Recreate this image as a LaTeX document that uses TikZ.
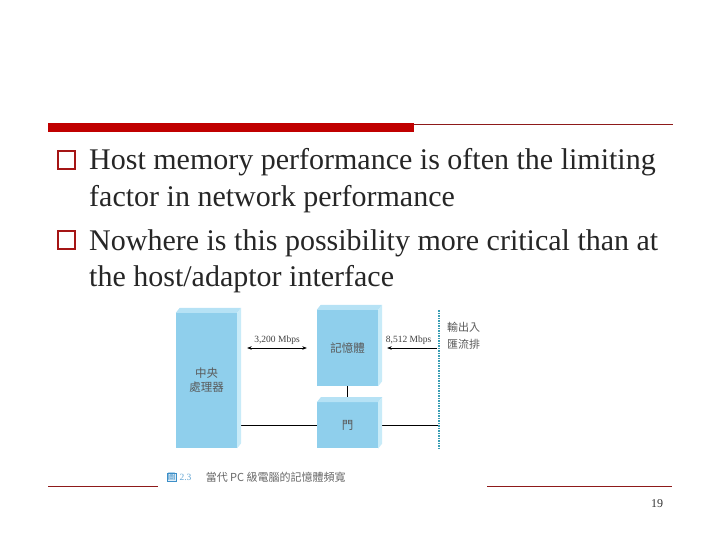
\documentclass[tikz,border=0pt]{standalone}
\usepackage{fontspec}
\setmainfont{Liberation Serif}
\newfontfamily\cjk{Noto Sans CJK TC}
\usetikzlibrary{calc}
\usetikzlibrary{positioning}
\usetikzlibrary{arrows.meta}

\definecolor{slidered}{HTML}{C00000}
\definecolor{linered}{HTML}{8E1A1A}
\definecolor{bulletred}{HTML}{A51515}
\definecolor{boxfront}{HTML}{8FCFEC}
\definecolor{boxtop}{HTML}{B6E2F5}
\definecolor{boxside}{HTML}{C8EBF8}
\definecolor{busblue}{HTML}{3A9DB3}
\definecolor{figblue}{HTML}{3C8FC8}
\definecolor{captiongray}{HTML}{666666}

\tikzset{
  box/.style={rectangle, fill=boxfront, minimum width=61pt, inner sep=0, align=center,
    font=\cjk\fontsize{11.5}{14}\selectfont, text=black!65},
  bulletbox/.style={rectangle, draw=bulletred, line width=2.4pt, minimum size=17.5pt, inner sep=0},
  bodytext/.style={anchor=base west, inner sep=0, font=\fontsize{30}{32}\selectfont, text=black!85},
  rate/.style={font=\fontsize{9.5}{10}\selectfont, inner sep=1pt, text=black!75},
  rule/.style={linered, line width=0.8pt}
}

\begin{document}
\begin{tikzpicture}[x=1pt, y=-1pt, >={Stealth[length=4.5pt, width=3.5pt]}]
\useasboundingbox (0,0) rectangle (720,540);

%% Title rule
\fill[slidered] (48,123) rectangle (414,132);
\draw[rule] (414,124) -- (673,124);

%% Bullets
\node[bulletbox] (bullet1) at (66.5,160) {};
\node[bodytext] (line1) at (89,170) {Host memory performance is often the limiting};
\node[bodytext] (line2) at (89,207) {factor in network performance};
\node[bulletbox] (bullet2) at (66.5,240) {};
\node[bodytext] (line3) at (89,250) {Nowhere is this possibility more critical than at};
\node[bodytext] (line4) at (89,286) {the host/adaptor interface};

%% Figure
\node[box, minimum height=135pt] (cpu) at (206.5,380.5) {中央\\處理器};
\node[box, minimum height=76pt] (memory) at (347.5,348) {記憶體};
\node[box, minimum height=46pt, below=16pt of memory] (gate) {門};

\coordinate (bus top) at (439,310);
\coordinate (bus bottom) at (439,449);

\draw[line width=1pt] (memory.south) -- (gate.north);
\draw[line width=1.1pt] (cpu.east |- gate) -- (gate.west);
\draw[line width=1.1pt] (gate.east) -- (bus top |- gate);

\foreach \b in {cpu, memory, gate} {
  \fill[boxtop] (\b.north west) -- ++(4,-5) -- ([shift={(4pt,5pt)}]\b.north east) -- (\b.north east) -- cycle;
  \fill[boxside] (\b.north east) -- ++(4,-5) -- ([shift={(4pt,5pt)}]\b.south east) -- (\b.south east) -- cycle;
}

\draw[busblue, line width=1.5pt, densely dotted] (bus top) -- (bus bottom);

\draw[<->, line width=0.5pt, shorten <=10pt, shorten >=10pt] (cpu.east |- memory) -- (memory.west)
    node[midway, above=2pt, rate] {3,200 Mbps};
\draw[->, line width=0.5pt, shorten <=2pt, shorten >=9pt] (bus top |- memory) -- (memory.east)
    node[midway, above=2pt, rate] {8,512 Mbps};

\node[anchor=north west, inner sep=0, align=left, font=\cjk\fontsize{11}{17}\selectfont, text=black!65]
    (bus label) at ($(bus top)+(8,12)$) {輸出入\\匯流排};

%% Caption
\node[draw=figblue, fill=figblue!15, text=figblue, inner sep=0.6pt, font=\cjk\fontsize{8}{8}\selectfont]
    (fig icon) at (171.5,477) {圖};
\node[right=3pt of fig icon, inner sep=0, text=figblue!80, font=\fontsize{9.5}{10}\selectfont] (fig num) {2.3};
\node[right=14pt of fig num, inner sep=0, text=captiongray, font=\cjk\fontsize{11}{11}\selectfont] (caption) {當代 PC 級電腦的記憶體頻寬};

%% Footer
\draw[rule] (48,486) -- (158,486);
\draw[rule] (487,486) -- (672,486);
\node[anchor=base, inner sep=0, font=\fontsize{12}{12}\selectfont, text=black!80] (page number) at (657,507) {19};

\end{tikzpicture}
\end{document}
